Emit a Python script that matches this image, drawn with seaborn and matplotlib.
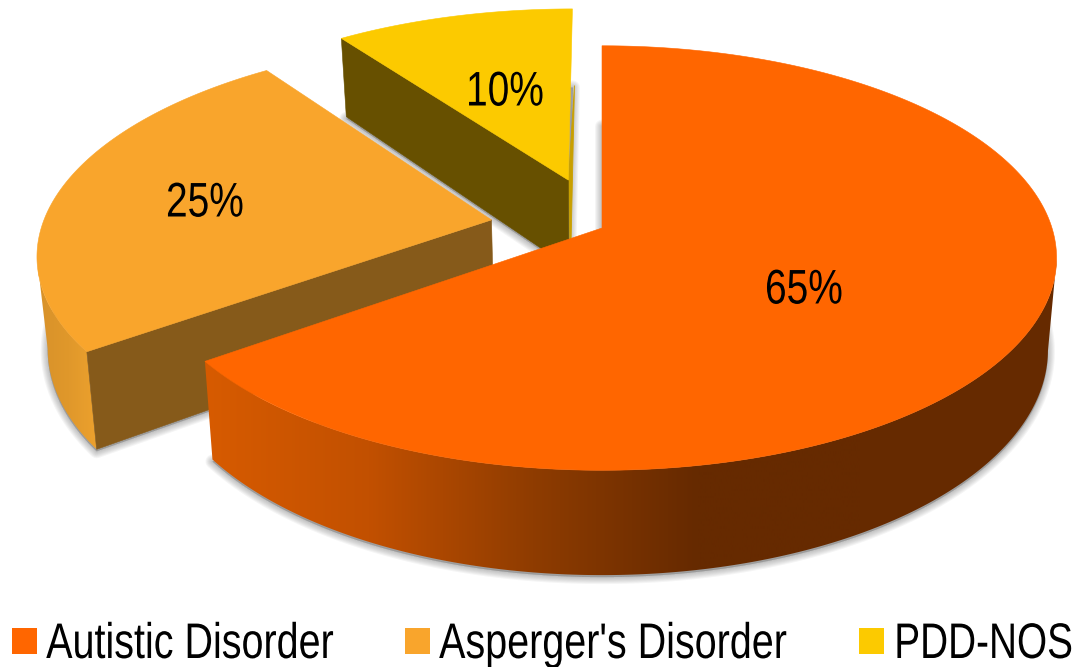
import numpy as np
import matplotlib
matplotlib.use("Agg")
import matplotlib.pyplot as plt
from matplotlib.patches import Polygon, Rectangle
from matplotlib.patheffects import AbstractPathEffect
from matplotlib.transforms import Affine2D
import seaborn as sns

categories = ["Autistic Disorder", "Asperger's Disorder", "PDD-NOS"]
values = [65, 25, 10]
top_colors = ["#FF6600", "#F9A52C", "#FCCA00"]
inner_wall_colors = [None, "#865A1A", "#675000"]
side_stops = [["#D75B00", "#C25000", "#8F3C00", "#662A00", "#662A00"],
              ["#D8922A", "#E0982B", "#EEA22E"],
              ["#C9A000", "#C9A000"]]
explode = [0.0, 0.25, 0.25]
label_pos = [(804, 291), (205, 204), (505, 93)]
legend_sq_x = [12, 405, 859]
legend_tx_x = [190, 613, 1073]
legend_ha = ["center", "center", "right"]
legend_squeeze = [0.79, 0.79, 0.775]

sns.set_theme(style="white")
FONT = ["Liberation Sans", "DejaVu Sans"]

# perspective camera, in figure pixels
CX, CY, RX, RY, K, DEPTH, SHRINK = 602, 228, 450, 208, 0.1415, 90, 0.981


def project(u, v, low=False):
    w = 1 + K * v
    x = CX + RX * u / w
    y = CY - RY * v / w
    if low:
        x = CX + (x - CX) * SHRINK
        y = y + DEPTH / w
    return x, y


def wedge(a0, a1, d):
    mid = np.radians((a0 + a1) / 2)
    ou, ov = d * np.cos(mid), d * np.sin(mid)
    t = np.radians(np.linspace(a0, a1, 360))
    return ou, ov, ou + np.cos(t), ov + np.sin(t)


class Condense(AbstractPathEffect):
    """Squeeze a text's glyphs horizontally about a pixel column (narrow typeface look)."""

    def __init__(self, anchor_x, sx):
        super().__init__()
        self.anchor_x, self.sx = anchor_x, sx

    def draw_path(self, renderer, gc, tpath, affine, rgbFace=None):
        m = affine.get_matrix().copy()
        m[0, 0] *= self.sx
        m[0, 1] *= self.sx
        m[0, 2] = self.anchor_x + (m[0, 2] - self.anchor_x) * self.sx
        renderer.draw_path(gc, tpath, Affine2D(m), rgbFace)


fig = plt.figure(figsize=(10.81, 6.67), dpi=100)
ax = fig.add_axes([0, 0, 1, 1])
ax.set_xlim(0, 1081)
ax.set_ylim(667, 0)
ax.axis("off")

# wedge angles: clockwise from 12 o'clock
shares = np.array(values) / np.sum(values) * 360
ends = 90 - np.cumsum(shares)
starts = ends + shares
geo = [wedge(s, e, d) for s, e, d in zip(starts, ends, explode)]

# soft shadows below all bodies
for ou, ov, au, av in geo:
    bx, by = project(np.r_[ou, au], np.r_[ov, av], low=True)
    pts = np.c_[bx, by + 2]
    for lw in np.arange(1, 11, 1.5):
        ax.add_patch(Polygon(pts, closed=True, fc="#555555", ec="#555555", alpha=0.06,
                             lw=lw, joinstyle="round", zorder=1))

# back to front: PDD-NOS, Asperger's, Autistic
for i in [2, 1, 0]:
    z = 10 + (2 - i) * 10
    ou, ov, au, av = geo[i]
    tx, ty = project(au, av)
    lx, ly = project(au, av, low=True)

    # outer wall with horizontal shading, limited to the part facing the viewer
    if i != 2:
        sel = slice(np.argmax(tx), None) if i == 0 else slice(0, np.argmin(tx) + 1)
        wall = Polygon(np.c_[np.r_[tx[sel], lx[sel][::-1]], np.r_[ty[sel], ly[sel][::-1]]],
                       closed=True, fc="none", ec="none", zorder=z)
        ax.add_patch(wall)
        x0, x1 = (205, 860) if i == 0 else (38, 100)
        cmap = sns.blend_palette(side_stops[i], 256, as_cmap=True)
        im = ax.imshow(np.linspace(0, 1, 256)[None, :], cmap=cmap, aspect="auto",
                       extent=(x0, x1, 600, 0), zorder=z, interpolation="bilinear")
        im.set_clip_path(wall)
        if i == 0:
            xr = Rectangle((x1, 0), 1081 - x1, 600, fc=side_stops[0][-1], ec="none", zorder=z)
            ax.add_patch(xr)
            xr.set_clip_path(wall)
        ax.set_xlim(0, 1081)
        ax.set_ylim(667, 0)
    else:
        # thin gold strip on the right-hand cut of PDD-NOS
        eu, ev = np.array([ou, au[-1]]), np.array([ov, av[-1]])
        px, py = project(eu, ev)
        qx, qy = project(eu, ev, low=True)
        ax.add_patch(Polygon(np.c_[[px[0], qx[1] + 1.5, qx[0] + 1.5], [py[0], qy[1], qy[0]]],
                             closed=True, fc="#C9A000", ec="#C9A000", lw=0.6, zorder=z))

    # inner straight wall facing the viewer
    if inner_wall_colors[i]:
        eu, ev = np.array([ou, au[0]]), np.array([ov, av[0]])
        px, py = project(eu, ev)
        qx, qy = project(eu, ev, low=True)
        ax.add_patch(Polygon(np.c_[np.r_[px, qx[::-1]], np.r_[py, qy[::-1]]], closed=True,
                             fc=inner_wall_colors[i], ec=inner_wall_colors[i], lw=0.4, zorder=z + 1))

    # top face
    fx, fy = project(np.r_[ou, au], np.r_[ov, av])
    ax.add_patch(Polygon(np.c_[fx, fy], closed=True, fc=top_colors[i], ec=top_colors[i],
                         lw=0.4, zorder=z + 2))

# percent labels
for v, (x, y) in zip(values, label_pos):
    ax.text(x, y, f"{v}%", ha="center", va="center", fontsize=35, color="black",
            family=FONT, zorder=60, path_effects=[Condense(x, 0.8)])

# legend
for name, col, sx, tx_, ha, sq in zip(categories, top_colors, legend_sq_x, legend_tx_x,
                                      legend_ha, legend_squeeze):
    ax.add_patch(Rectangle((sx, 628), 25, 26, fc=col, ec="none", zorder=60))
    ax.text(tx_, 658, name, ha=ha, va="baseline", fontsize=36, color="black",
            family=FONT, zorder=60, path_effects=[Condense(tx_, sq)])

fig.savefig("out.png", dpi=100)
